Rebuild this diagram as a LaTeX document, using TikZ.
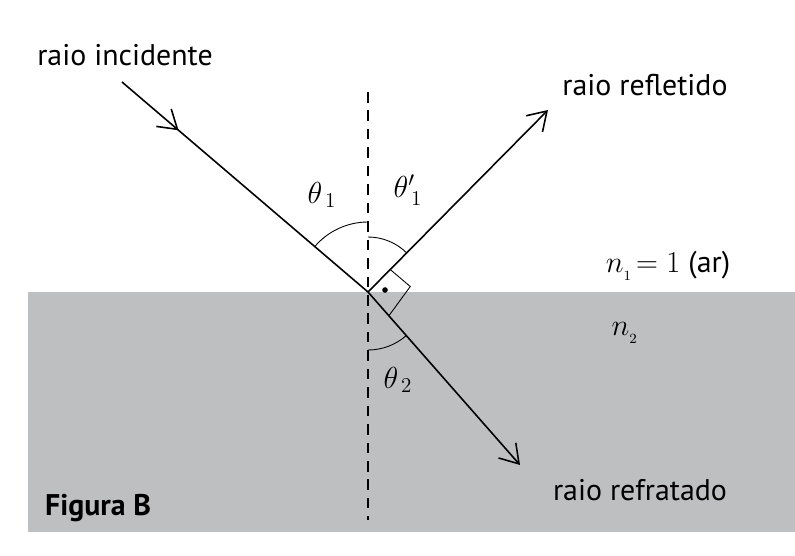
\documentclass[tikz,border=0pt]{standalone}
\usepackage{fontspec}
\setmainfont{PT Sans}
\usetikzlibrary{arrows.meta, decorations.markings, calc}
\definecolor{mediumGray}{RGB}{190, 191, 193}
\tikzset{
    ray/.style={
        line width=0.9pt,
        -{Straight Barb[length=3.6mm, width=4.6mm, line width=0.9pt]}
    },
    midray/.style={
        line width=0.9pt,
        decoration={markings, mark=at position 0.23 with {\arrow{Straight Barb[length=3.6mm, width=4.6mm, line width=0.9pt]}}},
        postaction=decorate
    },
    normal/.style={
        line width=0.9pt,
        dash pattern=on 6pt off 4.5pt
    },
    angarc/.style={
        line width=0.5pt
    },
    label/.style={
        font=\fontsize{17}{20}\selectfont,
        inner sep=0pt
    }
}
\begin{document}
\begin{tikzpicture}[x=0.2mm, y=-0.2mm]
  \useasboundingbox (0,0) rectangle (795,555);
  % medium
  \fill[mediumGray] (28,292) rectangle (795,532);

  % points
  \coordinate (O) at (368,292);
  \coordinate (inc) at (122,82);
  \coordinate (refl) at (548,110);
  \coordinate (refr) at (520,465);
  \coordinate (ntop) at (368,92);
  \coordinate (nbot) at (368,520);

  % normal
  \draw[normal] (ntop) -- (nbot);

  % rays
  \draw[midray] (inc) -- (O);
  \draw[ray] (O) -- (refl);
  \draw[ray] (O) -- (refr);

  % angles
  \draw[angarc] ($(O)+(0,-70)$) arc[start angle=90, end angle=139.5, radius=70*0.2mm];
  \draw[angarc] ($(O)+(0,-55)$) arc[start angle=90, end angle=45.3, radius=55*0.2mm];
  \draw[angarc] ($(O)+(0,58)$) arc[start angle=270, end angle=311.3, radius=58*0.2mm];

  % right angle
  \draw[angarc] ($(O)!18pt!(refl)$) -- ++(20,17) -- ($(O)!18pt!(refr)$);
  \fill ($(O)+(17,-2)$) circle (1.6pt);

  % labels
  \node[label] (lblinc) at (125,55) {raio incidente};
  \node[label] (lblrefl) at (645,85) {raio refletido};
  \node[label] (lblrefr) at (640,490) {raio refratado};
  \node[label] (lbln1) at (668,266) {$n_{_1}\!= 1$ (ar)};
  \node[label] (lbln2) at (625,333) {$n_{_2}$};
  \node[label] (lblt1) at (322,195) {$\theta_{\,1}$};
  \node[label] (lblt1p) at (408,190) {$\theta'_{\,1}$};
  \node[label] (lblt2) at (398,380) {$\theta_{\,2}$};
  \node[label, font=\fontsize{17}{20}\selectfont\bfseries] (fig) at (98,508) {Figura B};
\end{tikzpicture}
\end{document}
